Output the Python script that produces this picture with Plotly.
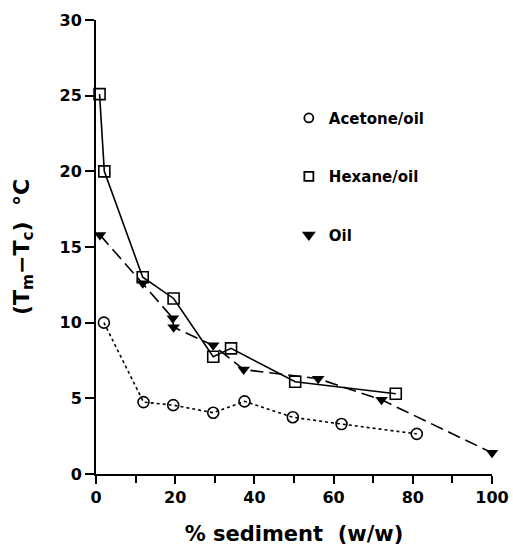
import plotly.graph_objects as go

acetone_x = [2, 12, 19.5, 29.6, 37.5, 49.7, 62, 81]
acetone_y = [10.0, 4.75, 4.55, 4.05, 4.8, 3.75, 3.3, 2.65]

hexane_x = [0.9, 2.1, 11.8, 19.6, 29.6, 34.1, 50.3, 75.7]
hexane_y = [25.1, 20.0, 13.0, 11.6, 7.75, 8.3, 6.1, 5.3]

oil_x = [1, 11.8, 19.4, 19.6, 29.6, 37.3, 56.1, 72.1, 100]
oil_y = [15.8, 12.6, 10.3, 9.7, 8.5, 6.9, 6.3, 4.9, 1.4]

names = ["Acetone/oil", "Hexane/oil", "Oil"]

FONT = "DejaVu Sans, Verdana, sans-serif"

fig = go.Figure()

fig.add_trace(go.Scatter(x=acetone_x, y=acetone_y, mode="lines+markers",
                         line=dict(color="black", width=1.6, dash="dot"),
                         marker=dict(symbol="circle-open", size=11, color="black", line=dict(width=1.6)),
                         showlegend=False, cliponaxis=False))
fig.add_trace(go.Scatter(x=hexane_x, y=hexane_y, mode="lines+markers",
                         line=dict(color="black", width=1.6),
                         marker=dict(symbol="square-open", size=11, color="black", line=dict(width=1.6)),
                         showlegend=False, cliponaxis=False))
fig.add_trace(go.Scatter(x=oil_x, y=oil_y, mode="lines+markers",
                         line=dict(color="black", width=1.6, dash="13px,6px"),
                         marker=dict(symbol="triangle-down", size=11, color="black"),
                         showlegend=False, cliponaxis=False))

# legend-only entries (markers only)
leg_symbols = ["circle-open", "square-open", "triangle-down"]
for i, (n, s) in enumerate(zip(names, leg_symbols)):
    fig.add_trace(go.Scatter(x=[None], y=[None], mode="markers", name=n,
                             legendgroup=n,
                             marker=dict(symbol=s, size=9, color="black", line=dict(width=1.8, color="black"))))

fig.update_layout(
    width=513, height=554,
    margin=dict(l=96, r=21, t=20, b=80),
    paper_bgcolor="white", plot_bgcolor="white",
    font=dict(family=FONT, size=16, color="black"),
    legend=dict(x=0.487, y=0.820, xanchor="left", yanchor="top",
                font=dict(size=15, family=FONT, weight="bold"),
                tracegroupgap=36, itemwidth=30,
                bgcolor="rgba(0,0,0,0)"),
    xaxis=dict(range=[0, 100], tickvals=[0, 20, 40, 60, 80, 100], automargin=False,
               ticks="outside", ticklen=8, tickwidth=1.5, tickcolor="black",
               minor=dict(tickvals=[10, 30, 50, 70, 90], ticks="outside", ticklen=7, tickwidth=1.5, tickcolor="black"),
               showline=True, linecolor="black", linewidth=2, showgrid=False, zeroline=False,
               tickfont=dict(size=16, family=FONT, weight="bold"),
               title=dict(text="<b>% sediment  (w/w)</b>", font=dict(size=21, family=FONT), standoff=20)),
    yaxis=dict(range=[0, 30], tickvals=[0, 5, 10, 15, 20, 25, 30], automargin=False,
               ticks="outside", ticklen=9, tickwidth=1.5, tickcolor="black",
               showline=True, linecolor="black", linewidth=2, showgrid=False, zeroline=False,
               tickfont=dict(size=16, family=FONT, weight="bold"),
               title=dict(text="<b>(T<sub>m</sub>−T<sub>c</sub>)  °C</b>", font=dict(size=22, family=FONT), standoff=24)),
)

fig.write_html("out.html")
